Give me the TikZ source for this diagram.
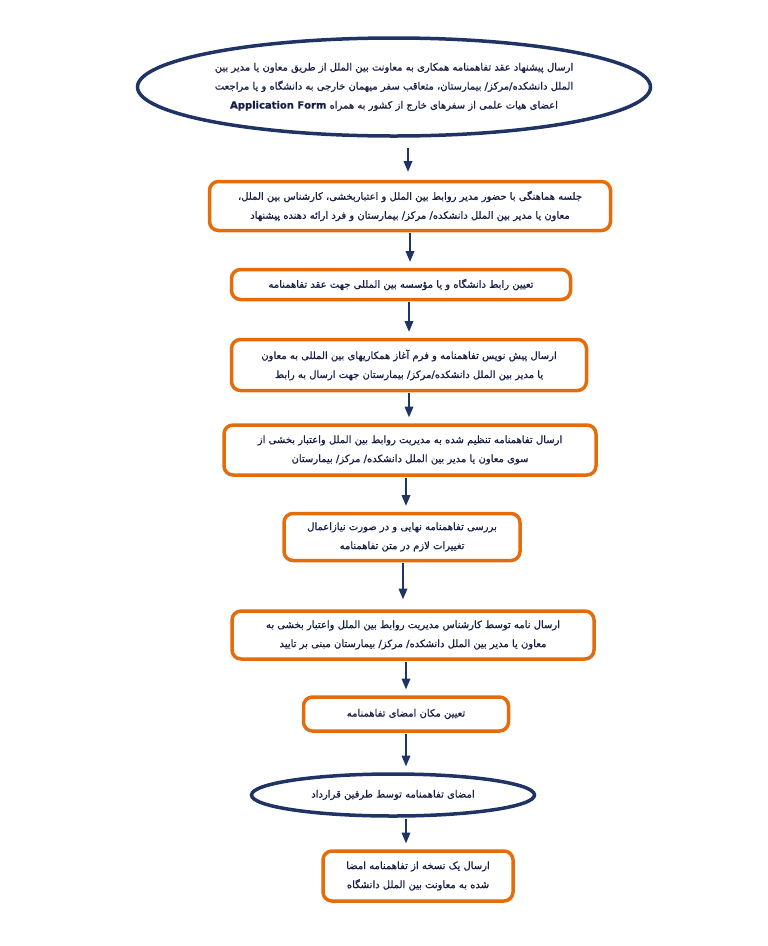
\documentclass[tikz,border=0pt]{standalone}
\usepackage{fontspec}
\newfontfamily\arabicfont[Script=Arabic, FakeBold=0.7]{DejaVu Sans}
\TeXXeTstate=1
\usetikzlibrary{shapes,arrows,positioning}
\definecolor{FlowNavy}{RGB}{31, 52, 100}
\definecolor{FlowOrange}{RGB}{228, 108, 10}
\definecolor{TextNavy}{RGB}{22, 30, 70}
\newcommand{\rl}[1]{\beginR #1\endR}

\tikzset{
  stepbox/.style={draw=FlowOrange, line width=3.5pt, rounded corners=9pt, fill=white,
    align=center, inner sep=0pt, text=TextNavy, font=\arabicfont\fontsize{10}{19}\selectfont},
  terminal/.style={ellipse, draw=FlowNavy, line width=3.5pt, fill=white,
    align=center, inner sep=0pt, text=TextNavy, font=\arabicfont\fontsize{10}{19}\selectfont},
  flow/.style={-triangle 45, draw=FlowNavy, line width=1.5pt, shorten >=6pt, shorten <=1pt}
}

\begin{document}
\begin{tikzpicture}[x=1pt, y=-1pt]
    \useasboundingbox (0,0) rectangle (768,946);
    \fill[white] (0,0) rectangle (768,946);

    % start
    \node[terminal, inner xsep=-30pt, minimum width=513, minimum height=98] (e1) at (394,87)
      {\rl{ارسال پیشنهاد عقد تفاهمنامه همکاری به معاونت بین الملل از طریق معاون یا مدیر بین}\\
       \rl{الملل دانشکده/مرکز/ بیمارستان، متعاقب  سفر میهمان خارجی به دانشگاه و یا مراجعت}\\
       \rl{اعضای هیات علمی از سفرهای خارج از کشور به همراه \beginL\textbf{Application Form}\endL}};

    % steps
    \node[stepbox, minimum width=401, minimum height=49] (b2) at (410,206)
      {\rl{جلسه هماهنگی  با حضور  مدیر روابط بین الملل و اعتباربخشی، کارشناس بین الملل،}\\
       \rl{معاون یا مدیر بین الملل دانشکده/ مرکز/ بیمارستان و فرد ارائه دهنده پیشنهاد}};
    \node[stepbox, minimum width=339, minimum height=30] (b3) at (401,284.5)
      {\rl{تعیین رابط دانشگاه و یا مؤسسه بین المللی جهت  عقد تفاهمنامه}};
    \node[stepbox, minimum width=355, minimum height=51] (b4) at (409,365)
      {\rl{ارسال پیش نویس تفاهمنامه و فرم آغاز همکاریهای بین المللی به معاون}\\
       \rl{یا مدیر بین الملل دانشکده/مرکز/ بیمارستان جهت ارسال به رابط}};
    \node[stepbox, minimum width=372, minimum height=50] (b5) at (410,450)
      {\rl{ارسال تفاهمنامه تنظیم شده به مدیریت روابط بین الملل واعتبار بخشی از}\\
       \rl{سوی معاون یا مدیر بین الملل دانشکده/ مرکز/ بیمارستان}};
    \node[stepbox, minimum width=236, minimum height=47] (b6) at (402,537)
      {\rl{بررسی تفاهمنامه نهایی و در صورت نیازاعمال}\\
       \rl{تغییرات لازم در متن تفاهمنامه}};
    \node[stepbox, minimum width=362, minimum height=48] (b7) at (413,635)
      {\rl{ارسال نامه توسط کارشناس مدیریت روابط بین الملل واعتبار بخشی به}\\
       \rl{معاون یا مدیر بین الملل دانشکده/ مرکز/ بیمارستان مبنی بر تایید}};
    \node[stepbox, minimum width=205, minimum height=34] (b8) at (406,714)
      {\rl{تعیین مکان امضای تفاهمنامه}};

    % signing
    \node[terminal, minimum width=283, minimum height=42] (e2) at (393,795)
      {\rl{امضای تفاهمنامه توسط طرفین قرارداد}};

    \node[stepbox, minimum width=190, minimum height=50] (b9) at (418,876)
      {\rl{ارسال یک نسخه از تفاهمنامه امضا}\\
       \rl{شده به معاونت بین الملل دانشگاه}};

    % arrows
    \draw[flow, shorten <=10pt, shorten >=8pt] (e1.south -| 408,0) -- (b2.north -| 408,0);
    \draw[flow] (b2.south -| 410,0) -- (b3.north -| 410,0);
    \draw[flow] (b3.south -| 409,0) -- (b4.north -| 409,0);
    \draw[flow] (b4.south -| 409,0) -- (b5.north -| 409,0);
    \draw[flow] (b5.south -| 406,0) -- (b6.north -| 406,0);
    \draw[flow, shorten >=10pt] (b6.south -| 403,0) -- (b7.north -| 403,0);
    \draw[flow] (b7.south -| 406,0) -- (b8.north -| 406,0);
    \draw[flow] (b8.south -| 406,0) -- (e2.north -| 406,0);
    \draw[flow] (e2.south -| 406,0) -- (b9.north -| 406,0);
  \end{tikzpicture}
\end{document}
